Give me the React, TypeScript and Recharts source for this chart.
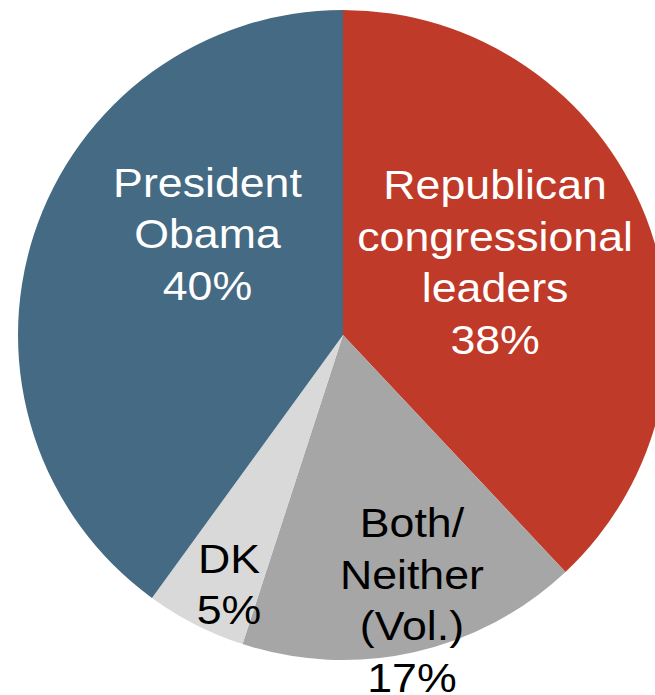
import React from "react";
import { PieChart, Pie, Cell } from "recharts";

const categories = [
  "Republican\ncongressional\nleaders",
  "Both/\nNeither\n(Vol.)",
  "DK",
  "President\nObama",
];
const values = [38, 17, 5, 40];
const colors = ["#BF3A28", "#A6A6A6", "#D9D9D9", "#456A83"];
const textColors = ["#FFFFFF", "#000000", "#000000", "#FFFFFF"];

// label anchor (first baseline) relative to pie centre, as a fraction of the radius
const labelOffsets = [
  { dx: 0.468, dy: -0.418 },
  { dx: 0.212, dy: 0.622 },
  { dx: -0.351, dy: 0.732 },
  { dx: -0.417, dy: -0.425 },
];

const data = categories.map((name, i) => ({ name, value: values[i] }));

const FONT_SIZE = 41;
const LINE_H = 51.5;

function renderLabel(props: any) {
  const { cx, cy, outerRadius, index, name, value } = props;
  const off = labelOffsets[index];
  const x = cx + off.dx * outerRadius;
  const y = cy + off.dy * outerRadius;
  const lines = [...String(name).split("\n"), `${value}%`];
  return (
    <text
      key={`lbl-${index}`}
      transform={`translate(${x},${y}) scale(1.09,1)`}
      textAnchor="middle"
      fill={textColors[index]}
      fontSize={FONT_SIZE}
      fontFamily="'Liberation Sans', Arial, sans-serif"
    >
      {lines.map((l, i) => (
        <tspan key={i} x={0} y={i * LINE_H}>
          {l}
        </tspan>
      ))}
    </text>
  );
}

export default function App() {
  return (
    <div style={{ position: "absolute", left: 0, top: 0, width: 655, height: 695, background: "#fff" }}>
      <PieChart width={655} height={695} margin={{ top: 0, right: 0, bottom: 0, left: 0 }}>
        <Pie
          data={data}
          dataKey="value"
          nameKey="name"
          cx={343}
          cy={335}
          outerRadius={325}
          startAngle={90}
          endAngle={-270}
          stroke="none"
          labelLine={false}
          label={renderLabel}
          isAnimationActive={false}
        >
          {data.map((d, i) => (
            <Cell key={d.name} fill={colors[i]} />
          ))}
        </Pie>
      </PieChart>
    </div>
  );
}
